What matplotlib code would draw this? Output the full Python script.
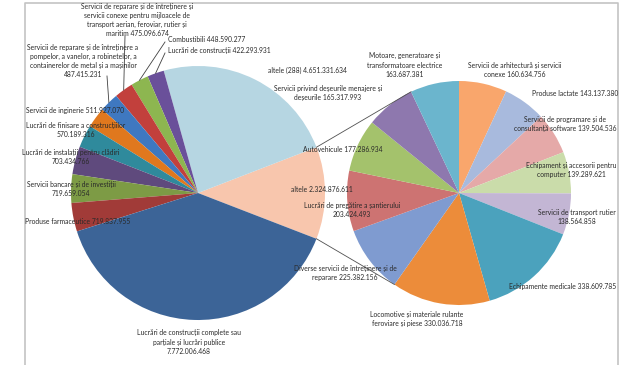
import numpy as np
import matplotlib.pyplot as plt

plt.rcParams['font.family'] = ['Liberation Sans Narrow', 'Lato', 'DejaVu Sans']

W, H = 630, 365

# prima diagramă (stânga), în ordinea desenării, începând cu "altele" detaliat
left_names = [
    "altele {}",
    "altele (288) {}",
    "Lucrări de construcții {}",
    "Combustibili {}",
    "Servicii de reparare și de întreținere și\nservicii conexe pentru mijloacele de\ntransport aerian, feroviar, rutier și\nmaritim {}",
    "Servicii de reparare și de întreținere a\npompelor, a vanelor, a robinetelor, a\ncontainerelor de metal și a mașinilor\n{}",
    "Servicii de inginerie {}",
    "Lucrări de finisare a construcțiilor\n{}",
    "Lucrări de instalații pentru clădiri\n{}",
    "Servicii bancare și de investiții\n{}",
    "Produse farmaceutice {}",
    "Lucrări de construcții complete sau\nparțiale și lucrări publice\n{}",
]
left_values = [2324876611, 4651331634, 422293931, 448590277, 475096674, 487415231,
               511927070, 570189316, 703434766, 719659054, 719837955, 7772006468]
left_colors = ['#F8C6AD', '#B6D6E2', '#6A509A', '#8DB650', '#C2403C', '#3F78C0',
               '#E0781E', '#2F8A9C', '#5F4A7D', '#7D9B45', '#A13B38', '#3C6497']

# a doua diagramă (dreapta): defalcarea lui "altele", în sensul acelor de ceasornic
right_names = [
    "Servicii de arhitectură și servicii\nconexe {}",
    "Produse lactate {}",
    "Servicii de programare și de\nconsultanță software {}",
    "Echipament și accesorii pentru\ncomputer {}",
    "Servicii de transport rutier\n{}",
    "Echipamente medicale {}",
    "Locomotive și materiale rulante\nferoviare și piese {}",
    "Diverse servicii de întreținere și de\nreparare {}",
    "Lucrări de pregătire a șantierului\n{}",
    "Autovehicule {}",
    "Servicii privind deșeurile menajere și\ndeșeurile {}",
    "Motoare, generatoare și\ntransformatoare electrice\n{}",
]
right_values = [160634756, 143137380, 139504536, 139289621, 138564858, 338609785,
                330036718, 225382156, 203424493, 177286934, 165317993, 163687381]
right_colors = ['#F9A66C', '#A8BADD', '#E5A9A8', '#CADCAA', '#C3B6D4', '#4BA2BD',
                '#EC8C3A', '#7F9BD0', '#CD7372', '#A4C26C', '#8E78AE', '#6BB5CD']

# poziții etichete (pixeli în imagine: x, y, aliniere)
left_label_pos = [(322, 189, 'center'), (307, 70, 'center'), (168, 51, 'left'),
                  (168, 39, 'left'), (137, 20, 'center'), (83, 61, 'center'),
                  (75, 111, 'center'), (76, 130, 'center'), (71, 157, 'center'),
                  (71, 189, 'center'), (78, 221, 'center'), (189, 342, 'center')]
right_label_pos = [(515, 70, 'center'), (575, 94, 'center'), (565, 124, 'center'),
                   (571, 170, 'center'), (577, 217, 'center'), (563, 286, 'center'),
                   (417, 319, 'center'), (345, 273, 'center'), (352, 210, 'center'),
                   (343, 150, 'center'), (328, 93, 'center'), (405, 65, 'center')]
# linii de legătură etichetă -> felie (index: punct de start)
leader_start = {2: (165, 53), 3: (165, 42), 4: (125, 36), 5: (107, 76)}

left_c, left_r = (198, 193), 127
right_c, right_r = (459, 193), 112


def fmt(v):
    return f"{v:,}".replace(",", ".")


def px(x, y):
    return x, H - y


fig = plt.figure(figsize=(W / 100, H / 100), dpi=100)
ax = fig.add_axes([0, 0, 1, 1])

lv = np.array(left_values, dtype=float)
start = -lv[0] / lv.sum() * 180
ax.pie(lv, colors=left_colors, startangle=start, center=px(*left_c), radius=left_r,
       frame=True, wedgeprops=dict(linewidth=0))
ax.pie(right_values, colors=right_colors, startangle=90, counterclock=False,
       center=px(*right_c), radius=right_r, frame=True, wedgeprops=dict(linewidth=0))

txt = dict(fontsize=4.9, color='#2A2A2A', va='center', linespacing=1.38)
for name, v, (x, y, ha) in zip(left_names, left_values, left_label_pos):
    ax.text(*px(x, y), name.format(fmt(v)), ha=ha, multialignment='center', **txt)
for name, v, (x, y, ha) in zip(right_names, right_values, right_label_pos):
    ax.text(*px(x, y), name.format(fmt(v)), ha=ha, multialignment='center', **txt)

# linii către felii
cum = np.concatenate([[0], np.cumsum(lv)]) / lv.sum() * 360 + start
lx, ly = px(*left_c)
for i, (sx, sy) in leader_start.items():
    a = np.radians((cum[i] + cum[i + 1]) / 2)
    ex, ey = lx + left_r * np.cos(a), ly + left_r * np.sin(a)
    ax.plot([sx, ex], [H - sy, ey], color='#404040', lw=0.6)

# liniile dintre cele două diagrame
rv = np.array(right_values, dtype=float)
rx, ry = px(*right_c)
top_a = np.radians(90 + rv[-1] / rv.sum() * 360)
bot_a = np.radians(90 - rv[:7].sum() / rv.sum() * 360)
half = np.radians(-start)
for a_left, a_right in [(half, top_a), (-half, bot_a)]:
    ax.plot([lx + left_r * np.cos(a_left), rx + right_r * np.cos(a_right)],
            [ly + left_r * np.sin(a_left), ry + right_r * np.sin(a_right)],
            color='#505050', lw=0.6)

# chenar
ax.plot([24.5, 24.5, 618, 618], [0, H - 2.5, H - 2.5, 0], color='#C4C4C4', lw=1.2)

ax.set_xlim(0, W)
ax.set_ylim(0, H)
ax.axis('off')
fig.savefig('out.png', dpi=100)
